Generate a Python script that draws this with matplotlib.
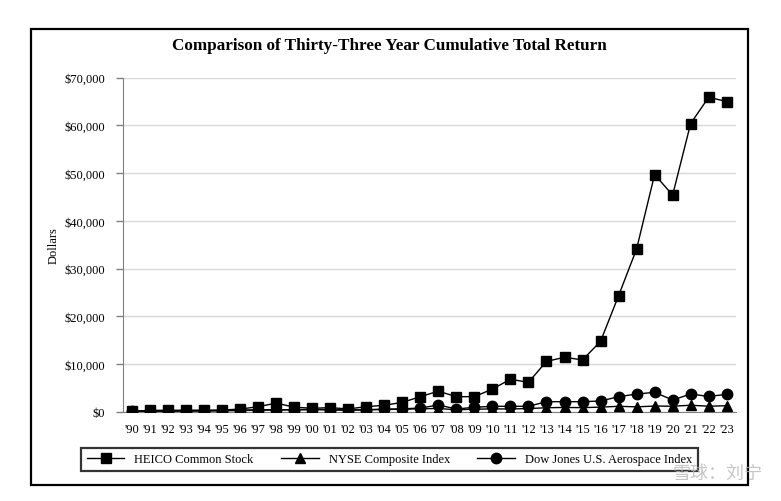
import numpy as np
import matplotlib
matplotlib.use('Agg')
import matplotlib.pyplot as plt
from matplotlib.patches import Rectangle
from matplotlib.ticker import FuncFormatter

# data
years = ["'90", "'91", "'92", "'93", "'94", "'95", "'96", "'97", "'98", "'99",
         "'00", "'01", "'02", "'03", "'04", "'05", "'06", "'07", "'08", "'09",
         "'10", "'11", "'12", "'13", "'14", "'15", "'16", "'17", "'18", "'19",
         "'20", "'21", "'22", "'23"]
heico = [100, 280, 300, 310, 330, 350, 550, 1050, 1800, 950,
         720, 850, 580, 1050, 1350, 1950, 3150, 4300, 3150, 3150,
         4750, 6800, 6150, 10550, 11400, 10850, 14750, 24300, 34100, 49700,
         45400, 60400, 65900, 65000]
nyse = [100, 130, 140, 160, 160, 210, 250, 320, 370, 410,
        420, 390, 310, 410, 470, 510, 620, 670, 410, 520,
        590, 570, 660, 830, 890, 850, 960, 1130, 1020, 1180,
        1150, 1350, 1150, 1250]
dowjones = [100, 110, 120, 170, 170, 250, 300, 400, 400, 420,
            500, 450, 330, 420, 520, 600, 770, 1400, 570, 920,
            1130, 1130, 1130, 2100, 2100, 2100, 2240, 3140, 3700, 4060,
            2450, 3700, 3200, 3630]

W, H = 781, 502
plt.rcParams['font.family'] = ['Liberation Serif', 'DejaVu Serif']

fig = plt.figure(figsize=(W / 100, H / 100), dpi=100)
fig.patch.set_facecolor('white')

# outer frame
fig.patches.append(Rectangle((31 / W, 1 - 486 / H), (748 - 31) / W, (486 - 30) / H,
                             transform=fig.transFigure, fill=False,
                             edgecolor='black', linewidth=1.6))

ax = fig.add_axes([123 / W, 1 - 412.7 / H, (735.7 - 123) / W, (412.7 - 78.7) / H])
x = np.arange(len(years))

ax.plot(x, heico, color='black', marker='s', markersize=7.5, linewidth=1, label='HEICO Common Stock', zorder=5)
ax.plot(x, nyse, color='black', marker='^', markersize=7.5, linewidth=1, label='NYSE Composite Index', zorder=4)
ax.plot(x, dowjones, color='black', marker='o', markersize=7.5, linewidth=1, label='Dow Jones U.S. Aerospace Index', zorder=4)

ax.set_xlim(-0.5, len(years) - 0.5)
ax.set_ylim(0, 70000)
ax.set_yticks(np.arange(0, 70001, 10000))
ax.yaxis.set_major_formatter(FuncFormatter(lambda v, p: f'${v:,.0f}'))
ax.set_xticks(x)
ax.set_xticklabels(years)
ax.tick_params(axis='x', length=0, pad=8, labelsize=9)
ax.tick_params(axis='y', length=5, color='#808080', width=1, pad=8, labelsize=9)
ax.grid(axis='y', color='#d9d9d9', linewidth=1)
ax.set_axisbelow(True)
for s in ['top', 'right']:
    ax.spines[s].set_visible(False)
ax.spines['left'].set_color('#808080')
ax.spines['bottom'].set_color('#808080')
ax.set_ylabel('Dollars', fontsize=9, labelpad=3)

fig.text(389 / W, 1 - 46 / H, 'Comparison of Thirty-Three Year Cumulative Total Return',
         ha='center', va='center', fontsize=12.3, fontweight='bold')

leg = fig.legend(loc='center', bbox_to_anchor=(389.5 / W, 1 - 460.5 / H), ncol=3,
                 fontsize=9, frameon=True, fancybox=False, edgecolor='black',
                 handlelength=3.0, columnspacing=2.2, borderpad=0.45)
leg.get_frame().set_linewidth(1.6)

# watermark
wm = fig.text(718 / W, 1 - 474 / H, '雪球：刘宁', ha='center', va='center', fontsize=13,
              color='#b8b8b8', alpha=0.8, family=['Noto Sans CJK SC', 'DejaVu Sans'])
wm.set_zorder(10)

fig.savefig('out.png', dpi=100)
